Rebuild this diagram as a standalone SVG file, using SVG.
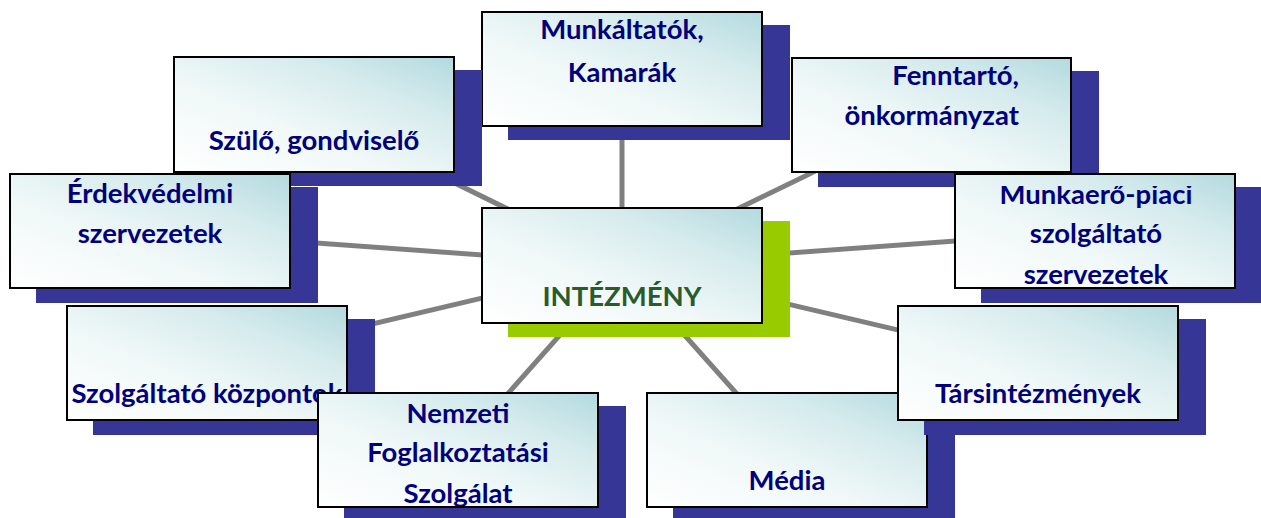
<svg xmlns="http://www.w3.org/2000/svg" width="1261" height="518" viewBox="0 0 1261 518">
<defs>
<linearGradient id="bf" x1="0" y1="1" x2="1" y2="0">
<stop offset="0" stop-color="#ffffff"/>
<stop offset="0.4" stop-color="#f0f8f8"/>
<stop offset="0.72" stop-color="#d6ebed"/>
<stop offset="1" stop-color="#b3dadf"/>
</linearGradient>
<clipPath id="cMunkaero"><rect x="955" y="186" width="280" height="102"/></clipPath>
<clipPath id="cNemzeti"><rect x="318" y="393" width="280" height="113"/></clipPath>
</defs>
<style>
.sh{fill:#363696}
.shg{fill:#99cc00}
.bx{fill:url(#bf);stroke:#000;stroke-width:2}
.t{font-family:Lato,"Liberation Sans",sans-serif;font-weight:bold;font-size:27.5px;fill:#00007c;text-anchor:middle}
.tc{fill:#2b5a2b}
.ln{stroke:#808080;stroke-width:5;fill:none}
</style>
<rect width="1261" height="518" fill="#ffffff"/>
<g id="connectors">
<line class="ln" x1="622" y1="265" x2="622" y2="69"/>
<line class="ln" x1="622" y1="265" x2="314" y2="114"/>
<line class="ln" x1="622" y1="265" x2="931" y2="115"/>
<line class="ln" x1="622" y1="265" x2="150" y2="231"/>
<line class="ln" x1="622" y1="265" x2="1095" y2="231"/>
<line class="ln" x1="622" y1="265" x2="207" y2="363"/>
<line class="ln" x1="622" y1="265" x2="458" y2="450"/>
<line class="ln" x1="622" y1="265" x2="787" y2="450"/>
<line class="ln" x1="622" y1="265" x2="1038" y2="363"/>
</g>
<g id="munkaltatok">
<rect class="sh" x="508" y="25" width="282" height="115"/>
<rect class="bx" x="482" y="12" width="280" height="114"/>
<text class="t" x="622" y="39">Munkáltatók,</text>
<text class="t" x="622" y="82">Kamarák</text>
</g>
<g id="szulo">
<rect class="sh" x="200" y="70" width="282" height="116"/>
<rect class="bx" x="174" y="57" width="280" height="115"/>
<text class="t" x="314" y="150">Szülő, gondviselő</text>
</g>
<g id="fenntarto">
<rect class="sh" x="818" y="71" width="281" height="116"/>
<rect class="bx" x="792" y="58" width="279" height="114"/>
<text class="t" x="1019" y="85" style="text-anchor:end">Fenntartó,</text>
<text class="t" x="1019" y="125" style="text-anchor:end">önkormányzat</text>
</g>
<g id="erdekvedelmi">
<rect class="sh" x="36" y="187" width="282" height="116"/>
<rect class="bx" x="10" y="174" width="280" height="114"/>
<text class="t" x="150" y="203">Érdekvédelmi</text>
<text class="t" x="150" y="243">szervezetek</text>
</g>
<g id="munkaero">
<rect class="sh" x="981" y="187" width="282" height="116"/>
<rect class="bx" x="955" y="174" width="280" height="114"/>
<g clip-path="url(#cMunkaero)">
<text class="t" x="1096" y="204">Munkaerő-piaci</text>
<text class="t" x="1096" y="243">szolgáltató</text>
<text class="t" x="1096" y="284">szervezetek</text>
</g>
</g>
<g id="intezmeny">
<rect class="shg" x="508" y="221" width="282" height="116"/>
<rect class="bx" x="482" y="208" width="280" height="115"/>
<text class="t tc" x="622" y="306">INTÉZMÉNY</text>
</g>
<g id="szolgaltato">
<rect class="sh" x="93" y="319" width="282" height="116"/>
<rect class="bx" x="67" y="306" width="280" height="114"/>
<text class="t" x="207" y="403">Szolgáltató központok</text>
</g>
<g id="nemzeti">
<rect class="sh" x="344" y="406" width="282" height="116"/>
<rect class="bx" x="318" y="393" width="280" height="114"/>
<g clip-path="url(#cNemzeti)">
<text class="t" x="458" y="423">Nemzeti</text>
<text class="t" x="458" y="462">Foglalkoztatási</text>
<text class="t" x="458" y="503">Szolgálat</text>
</g>
</g>
<g id="media">
<rect class="sh" x="673" y="406" width="282" height="116"/>
<rect class="bx" x="647" y="393" width="280" height="114"/>
<text class="t" x="787" y="490">Média</text>
</g>
<g id="tarsintezmenyek">
<rect class="sh" x="924" y="319" width="282" height="116"/>
<rect class="bx" x="898" y="306" width="280" height="114"/>
<text class="t" x="1038" y="403">Társintézmények</text>
</g>
</svg>
